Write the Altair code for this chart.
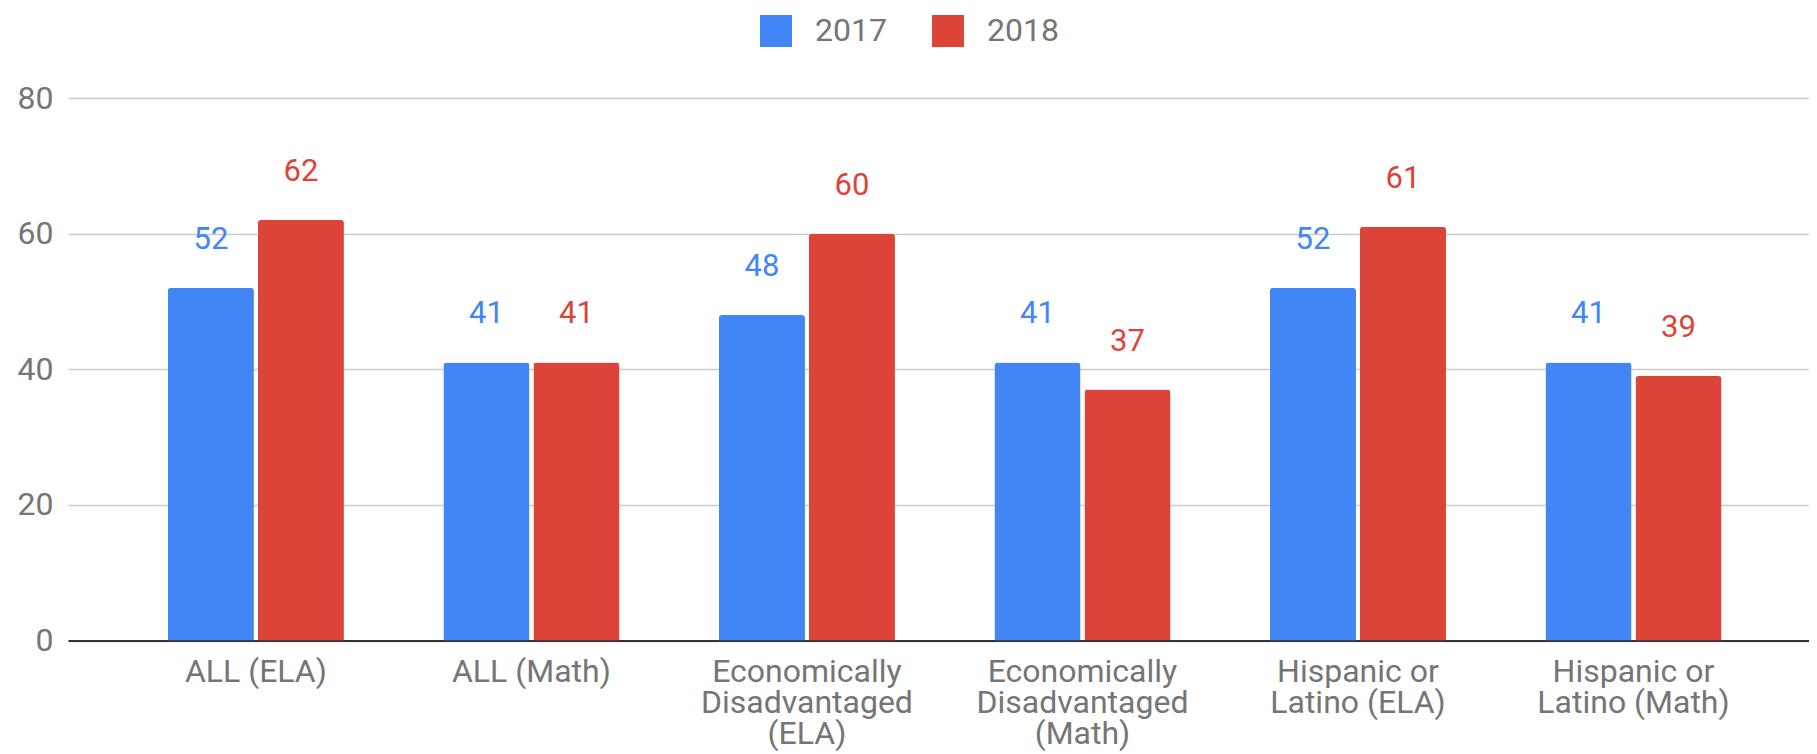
import altair as alt
import pandas as pd

categories = [
    "ALL (ELA)",
    "ALL (Math)",
    "Economically\nDisadvantaged\n(ELA)",
    "Economically\nDisadvantaged\n(Math)",
    "Hispanic or\nLatino (ELA)",
    "Hispanic or\nLatino (Math)",
]
years = ["2017", "2018"]
values_2017 = [52, 41, 48, 41, 52, 41]
values_2018 = [62, 41, 60, 37, 61, 39]
y_ticks = [0, 20, 40, 60, 80]
colors = ["#4285F4", "#DB4437"]

rows = []
for c, a, b in zip(categories, values_2017, values_2018):
    rows.append({"category": c, "year": "2017", "value": a})
    rows.append({"category": c, "year": "2018", "value": b})
df = pd.DataFrame(rows)

FONT = "Roboto"
GREY = "#757575"

x_enc = alt.X(
    "category:N",
    sort=categories,
    title=None,
    scale=alt.Scale(paddingInner=0.361, paddingOuter=0.34, align=0.533),
    axis=alt.Axis(
        labelAngle=0,
        labelExpr="split(datum.label, '\\n')",
        labelFont=FONT,
        labelFontSize=32,
        labelColor=GREY,
        labelLineHeight=31,
        labelBaseline="top",
        labelPadding=16,
        labelLimit=600,
        ticks=False,
        tickSize=0,
        domain=True,
        domainColor="#333333",
        domainWidth=2,
        grid=False,
    ),
)
xoff = alt.XOffset("year:N", scale=alt.Scale(paddingInner=0.044, paddingOuter=0))
y_enc = alt.Y(
    "value:Q",
    title=None,
    scale=alt.Scale(domain=[0, 80], nice=False),
    axis=alt.Axis(
        values=y_ticks,
        labelFont=FONT,
        labelFontSize=32,
        labelColor=GREY,
        labelPadding=15,
        ticks=False,
        tickSize=0,
        domain=False,
        grid=True,
        gridColor="#cccccc",
        gridWidth=1.5,
    ),
)
color_enc = alt.Color(
    "year:N",
    scale=alt.Scale(domain=years, range=colors),
    legend=alt.Legend(
        title=None,
        orient="none",
        direction="horizontal",
        legendX=692,
        legendY=-83,
        symbolType="square",
        symbolSize=1024,
        symbolStrokeWidth=0,
        symbolOpacity=1,
        labelFont=FONT,
        labelFontSize=32,
        labelColor=GREY,
        labelOffset=23,
        columnPadding=45,
    ),
)

bars = alt.Chart(df).mark_bar(
    cornerRadiusTopLeft=3, cornerRadiusTopRight=3
).encode(x=x_enc, xOffset=xoff, y=y_enc, color=color_enc)

labels = alt.Chart(df).mark_text(
    dy=-39, baseline="alphabetic", font=FONT, fontSize=31
).encode(
    x=x_enc,
    xOffset=xoff,
    y=y_enc,
    text=alt.Text("value:Q"),
    color=alt.Color("year:N", scale=alt.Scale(domain=years, range=colors), legend=None),
)

chart = (
    alt.layer(bars, labels)
    .properties(
        width=1741,
        height=542.5,
        padding={"left": 60, "top": 90, "right": 0, "bottom": 112},
        autosize=alt.AutoSizeParams(type="none"),
    )
    .configure_view(stroke=None)
)

chart.save("out.html", embed_options={"renderer": "svg", "actions": False})
